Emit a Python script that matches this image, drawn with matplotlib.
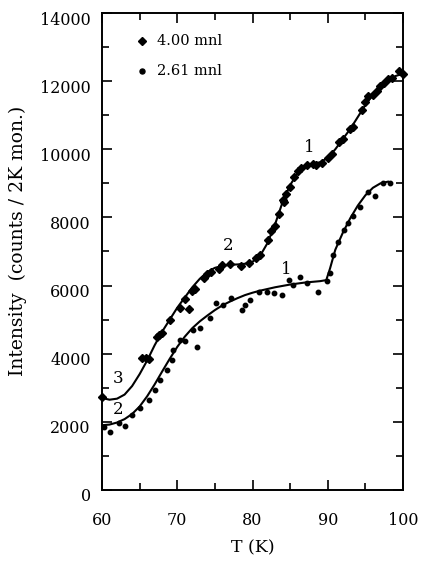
import matplotlib.pyplot as plt
import matplotlib.transforms as mtransforms
import numpy as np
from matplotlib.ticker import MultipleLocator

plt.rcParams['font.family'] = ['DejaVu Serif']

# 4.00 mnl data (diamonds)
t_400 = [60.0, 65.3, 65.8, 66.2, 67.3, 67.6, 68.0, 69.0, 70.3, 71.0, 71.5, 72.0,
         72.4, 73.5, 74.0, 74.5, 75.5, 76.0, 77.0, 78.5, 79.5, 80.5, 81.0, 82.0,
         82.5, 83.0, 83.5, 84.0, 84.2, 84.5, 85.0, 85.5, 86.0, 86.5, 87.2, 88.0,
         88.5, 89.3, 90.0, 90.5, 91.5, 92.0, 93.0, 93.3, 94.5, 95.0, 95.3, 96.0,
         96.5, 97.0, 97.5, 98.0, 98.5, 99.5, 100.0]
i_400 = [2720, 3880, 3870, 3850, 4500, 4560, 4600, 4990, 5350, 5600, 5300, 5850,
         5900, 6230, 6350, 6400, 6500, 6600, 6620, 6560, 6650, 6800, 6900, 7350,
         7600, 7750, 8100, 8500, 8450, 8700, 8900, 9200, 9350, 9450, 9550, 9580,
         9550, 9600, 9750, 9850, 10200, 10300, 10600, 10650, 11150, 11400, 11550, 11600,
         11700, 11850, 11950, 12050, 12100, 12300, 12200]

# 2.61 mnl data (circles)
t_261 = [60.2, 61.1, 62.2, 63.1, 64.0, 65.0, 66.2, 67.0, 67.7, 68.6, 69.3, 69.5,
         70.4, 71.0, 72.1, 72.6, 73.0, 74.4, 75.2, 76.1, 77.2, 78.6, 79.0, 79.7,
         80.8, 81.9, 82.8, 83.9, 84.8, 85.4, 86.3, 87.2, 88.7, 89.9, 90.3, 90.7,
         91.4, 92.1, 92.7, 93.4, 94.3, 95.4, 96.3, 97.4, 98.3]
i_261 = [1860, 1710, 1960, 1880, 2200, 2410, 2640, 2940, 3230, 3520, 3820, 4110,
         4410, 4360, 4700, 4210, 4750, 5040, 5480, 5430, 5630, 5290, 5430, 5580,
         5820, 5820, 5780, 5730, 6170, 6020, 6260, 6070, 5820, 6120, 6360, 6900,
         7290, 7640, 7830, 8030, 8320, 8760, 8620, 9010, 9010]

# fitted curves
fit_t_400 = [60, 61, 62, 63, 64, 65, 66, 67, 68, 69, 70, 71, 72, 73, 74, 75, 76, 77,
             78, 79, 80, 81, 82, 83, 84, 85, 86, 87, 88, 89, 90, 91, 92, 93, 94, 95,
             96, 97, 98, 99, 100]
fit_i_400 = [2700, 2650, 2680, 2800, 3050, 3400, 3800, 4250, 4650, 5000, 5350, 5650,
             5950, 6200, 6400, 6520, 6580, 6610, 6620, 6640, 6700, 6870, 7250, 7800,
             8450, 8950, 9300, 9500, 9580, 9620, 9750, 10000, 10300, 10600, 10950,
             11300, 11600, 11850, 12020, 12150, 12220]
fit_t_261 = [60, 61, 62, 63, 64, 65, 66, 67, 68, 69, 70, 71, 72, 73, 74, 75, 76, 77,
             78, 79, 80, 81, 82, 83, 84, 85, 86, 87, 88, 89, 89.8, 90.3, 91, 92, 93,
             94, 95, 96, 97, 98]
fit_i_261 = [1900, 1920, 1980, 2080, 2230, 2450, 2750, 3100, 3480, 3850, 4200, 4500,
             4750, 4950, 5120, 5280, 5420, 5530, 5630, 5720, 5790, 5850, 5900, 5950,
             5990, 6030, 6060, 6090, 6110, 6130, 6160, 6500, 7050, 7550, 7980, 8350,
             8650, 8870, 9000, 9050]

labels = ['1', '2', '1', '3', '2']
label_t = [87.5, 76.7, 84.5, 62.1, 62.1]
label_i = [10040, 7180, 6460, 3270, 2350]

fig = plt.figure(figsize=(4.22, 5.61), dpi=100)
ax = fig.add_axes([0.2417, 0.1266, 0.7133, 0.8502])

ax.plot(fit_t_400, fit_i_400, color='black', lw=1.5, clip_on=False)
ax.plot(fit_t_261, fit_i_261, color='black', lw=1.5)
ax.plot(t_400, i_400, 'D', color='black', ms=4.2, clip_on=False)
ax.plot(t_261, i_261, 'o', color='black', ms=3.2)

for s, x, y in zip(labels, label_t, label_i):
    ax.text(x, y, s, fontsize=12, ha='center', va='center')

# legend drawn by hand like the original
ax.plot([65.3], [13170], 'D', color='black', ms=4.2)
ax.plot([65.3], [12290], 'o', color='black', ms=3.6)
ax.text(67.3, 13170, '4.00 mnl', fontsize=10.5, va='center')
ax.text(67.3, 12290, '2.61 mnl', fontsize=10.5, va='center')

ax.set_xlim(60, 100)
ax.set_ylim(0, 14000)
ax.xaxis.set_major_locator(MultipleLocator(10))
ax.xaxis.set_minor_locator(MultipleLocator(5))
ax.yaxis.set_major_locator(MultipleLocator(2000))
ax.yaxis.set_minor_locator(MultipleLocator(1000))
ax.tick_params(which='both', direction='in', top=True, right=True, width=1.2)
ax.tick_params(which='major', length=7, labelsize=11.5)
ax.tick_params(which='minor', length=5)
ax.tick_params(axis='x', which='major', pad=16)
ax.tick_params(axis='y', which='major', pad=8)
for sp in ax.spines.values():
    sp.set_linewidth(1.4)

# y tick labels sit a little below their ticks in the original
shift = mtransforms.ScaledTranslation(0, -0.05, fig.dpi_scale_trans)
for lab in ax.get_yticklabels():
    lab.set_transform(lab.get_transform() + shift)

ax.set_xlabel('T (K)', fontsize=12.5, labelpad=7)
ax.set_ylabel('Intensity  (counts / 2K mon.)', fontsize=13.5)
ax.yaxis.set_label_coords(-0.25, 0.522)

fig.savefig('out.png', dpi=100)
